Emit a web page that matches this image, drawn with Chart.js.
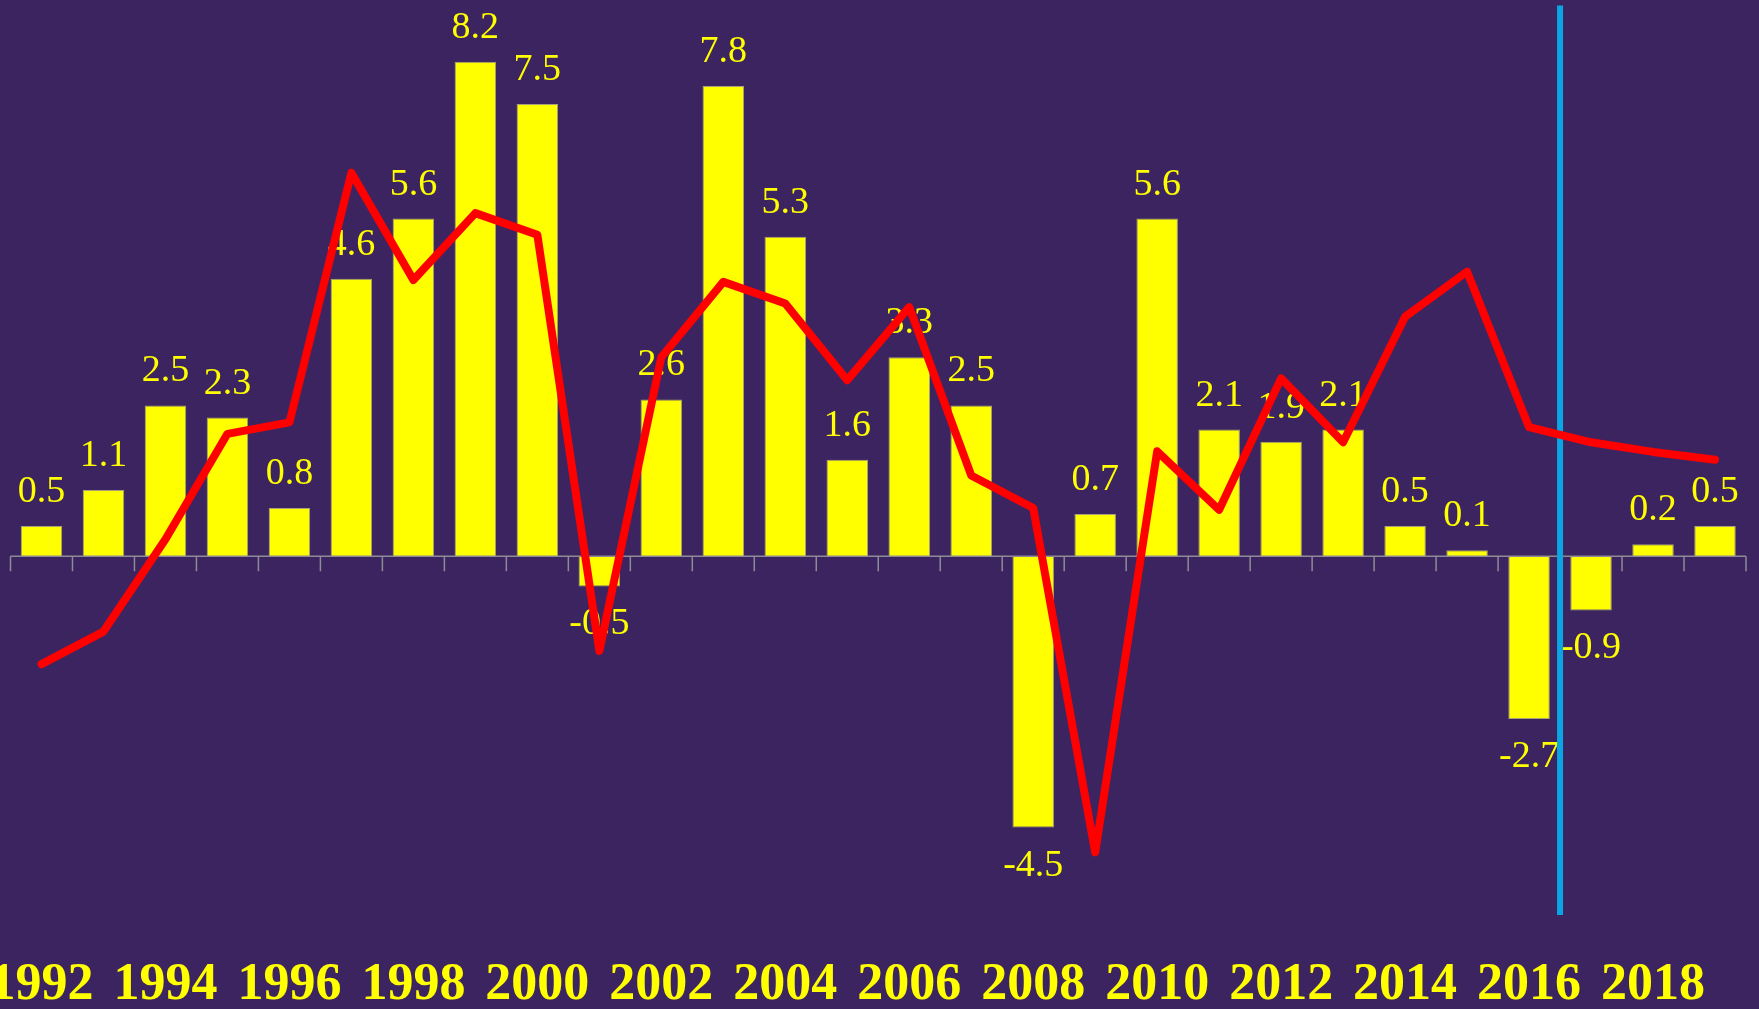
<!DOCTYPE html>
<html>
<head>
<meta charset="utf-8">
<script src="https://cdn.jsdelivr.net/npm/chart.js@4"></script>
<style>
html,body{margin:0;padding:0;background:#3b2460;overflow:hidden}
#wrap{width:1759px;height:1009px;position:relative}
</style>
</head>
<body>
<div id="wrap"><canvas id="chart"></canvas></div>
<script>
const years=["1992","1993","1994","1995","1996","1997","1998","1999","2000","2001","2002","2003","2004","2005","2006","2007","2008","2009","2010","2011","2012","2013","2014","2015","2016","2017","2018","2019"]

const growth=[0.5,1.1,2.5,2.3,0.8,4.6,5.6,8.2,7.5,-0.5,2.6,7.8,5.3,1.6,3.3,2.5,-4.5,0.7,5.6,2.1,1.9,2.1,0.5,0.1,-2.7,-0.9,0.2,0.5]

const trend=[-1.79,-1.25,0.28,2.03,2.22,6.36,4.58,5.69,5.33,-1.57,3.30,4.55,4.19,2.92,4.13,1.34,0.80,-4.91,1.74,0.77,2.95,1.89,3.97,4.72,2.14,1.89,1.73,1.60]

const splitYear="2016"

const ctx=document.getElementById("chart").getContext("2d")


/* labels, zero line, divider */

const overlay={
id:"overlay",
afterDatasetDraw(chart,args){

if(args.index!==0) return

const c=chart.ctx
const area=chart.chartArea
const x=chart.scales.x
const y=chart.scales.y
const y0=y.getPixelForValue(0)
const step=x.getPixelForValue(1)-x.getPixelForValue(0)

c.save()

// axis at zero with tick marks
c.strokeStyle="#8e8a96"
c.lineWidth=1.5
c.beginPath()
c.moveTo(area.left,y0)
c.lineTo(area.right,y0)
for(let i=0;i<=years.length;i++){
const px=x.getPixelForValue(0)-step/2+i*step
c.moveTo(px,y0)
c.lineTo(px,y0+15)
}
c.stroke()

// value labels
c.fillStyle="#ffff00"
c.font="38px 'Liberation Serif'"
c.textAlign="center"
c.textBaseline="middle"
const meta=chart.getDatasetMeta(0)
meta.data.forEach((bar,i)=>{
const v=growth[i]
const ty=v>=0 ? bar.y-34 : bar.y+38
c.fillText(v.toFixed(1),bar.x,ty)
})

// divider
const si=years.indexOf(splitYear)
const bx=x.getPixelForValue(si)+step/2
c.strokeStyle="#0aa6e3"
c.lineWidth=6
c.beginPath()
c.moveTo(bx,area.top+1)
c.lineTo(bx,area.bottom)
c.stroke()

c.restore()

}
}


/* CHART */

const chart=new Chart(ctx,{
data:{
labels:years,
datasets:[{
type:"bar",
data:growth,
backgroundColor:"#ffff00",
borderColor:"#a7a27a",
borderWidth:1,
barPercentage:0.67,
categoryPercentage:1,
order:1
},{
type:"line",
data:trend,
borderColor:"#ff0000",
borderWidth:8,
borderJoinStyle:"round",
borderCapStyle:"round",
pointRadius:0,
tension:0,
order:0
}]
},
options:{
responsive:true,
maintainAspectRatio:false,
animation:false,
devicePixelRatio:1,
layout:{padding:{left:10.5,right:13,top:4.5,bottom:0}},
plugins:{legend:{display:false},tooltip:{enabled:false}},
scales:{
x:{
grid:{display:false,drawTicks:false},
border:{display:false},
ticks:{
color:"#ffff00",
font:{family:"'Liberation Serif'",weight:"bold",size:52},
padding:39,
autoSkip:false,
maxRotation:0,
callback:(v,i)=>i%2===0 ? years[i] : ""
},
afterFit(s){
s.paddingLeft=0
s.paddingRight=0
s.height=94
}
},
y:{display:false,min:-5.95,max:9.15}
}
},
plugins:[overlay]
})
</script>
</body>
</html>
